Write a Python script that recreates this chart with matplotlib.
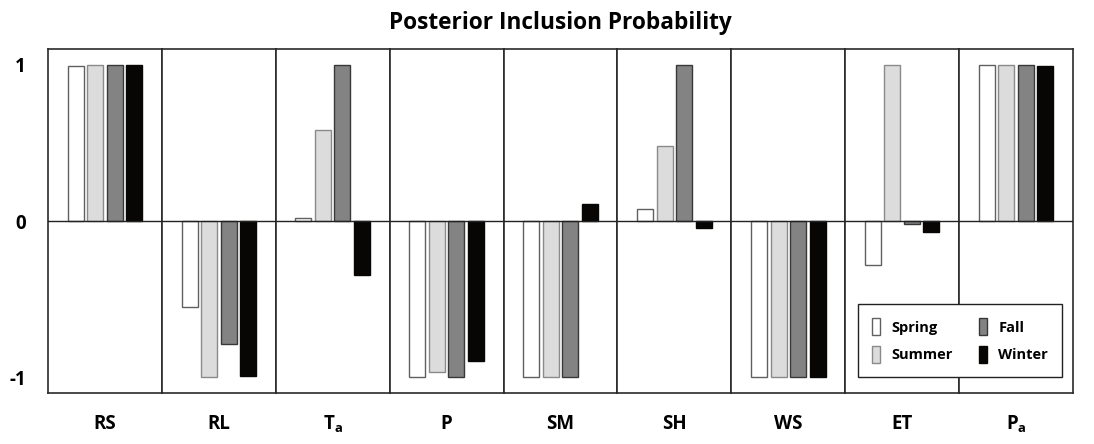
import matplotlib
matplotlib.use("Agg")
import matplotlib.pyplot as plt
import numpy as np

variables = ["RS", "RL", r"T$_\mathregular{a}$", "P", "SM", "SH", "WS", "ET", r"P$_\mathregular{a}$"]
seasons = ["Spring", "Summer", "Fall", "Winter"]
spring = [0.99, -0.55, 0.02, -1.00, -1.00, 0.075, -1.00, -0.28, 1.00]
summer = [1.00, -1.00, 0.585, -0.965, -1.00, 0.48, -1.00, 1.00, 1.00]
fall = [1.00, -0.79, 1.00, -1.00, -1.00, 1.00, -1.00, -0.02, 1.00]
winter = [1.00, -0.995, -0.345, -0.895, 0.11, -0.043, -1.00, -0.072, 0.99]
yticks = [-1, 0, 1]
ytick_labels = ["-1", "0", "1"]

series = [spring, summer, fall, winter]
faces = ["#ffffff", "#dcdcdc", "#838383", "#080604"]
edges = ["#606060", "#8a8a8a", "#383838", "#080604"]

plt.rcParams['font.family'] = ['Open Sans', 'DejaVu Sans']
plt.rcParams['mathtext.fontset'] = 'custom'
plt.rcParams['mathtext.rm'] = 'Open Sans:bold'

fig = plt.figure(figsize=(10.94, 4.44), dpi=100)
left, right, bottom, top = 48/1094, 1073/1094, 1 - 392.7/444, 1 - 49.3/444
n = len(variables)
w = (right - left) / n
pos = np.array([-1.5, -0.5, 0.5, 1.5])
bars = []
for i, var in enumerate(variables):
    ax = fig.add_axes([left + i*w, bottom, w, top - bottom])
    for s in range(4):
        b = ax.bar(pos[s], series[s][i], width=0.82, color=faces[s],
                   edgecolor=edges[s], linewidth=1.0, zorder=2)
        if i == 0:
            bars.append(b)
    ax.axhline(0, color="#222222", lw=1.0, zorder=3)
    ax.set_xlim(-2.92, 2.92)
    ax.set_ylim(-1.10, 1.10)
    ax.set_xticks([])
    for sp in ax.spines.values():
        sp.set_color("#2a2a2a")
        sp.set_linewidth(1.2)
    ax.set_xlabel(var, fontsize=13.5, fontweight='bold', labelpad=15)
    if i == 0:
        ax.set_yticks(yticks)
        ax.set_yticklabels(ytick_labels, fontsize=13.5, fontweight='bold')
        ax.tick_params(axis='y', length=0, pad=16)
    else:
        ax.set_yticks([])

fig.text((left+right)/2, 1 - 29/444, "Posterior Inclusion Probability",
         ha='center', va='baseline', fontsize=16.3, fontweight='bold')

leg = fig.legend([bars[0], bars[1], bars[2], bars[3]], seasons, ncol=2,
                 loc='upper left', bbox_to_anchor=(858.3/1094, 1 - 304.3/444),
                 borderaxespad=0,
                 prop={'weight': 'bold', 'size': 10.5},
                 handlelength=0.52, handleheight=1.45, handletextpad=0.8,
                 columnspacing=1.8, labelspacing=0.72, borderpad=0.95,
                 fancybox=False, edgecolor="#222222", framealpha=1)
leg.get_frame().set_linewidth(1.0)

fig.savefig("out.png", dpi=100)
